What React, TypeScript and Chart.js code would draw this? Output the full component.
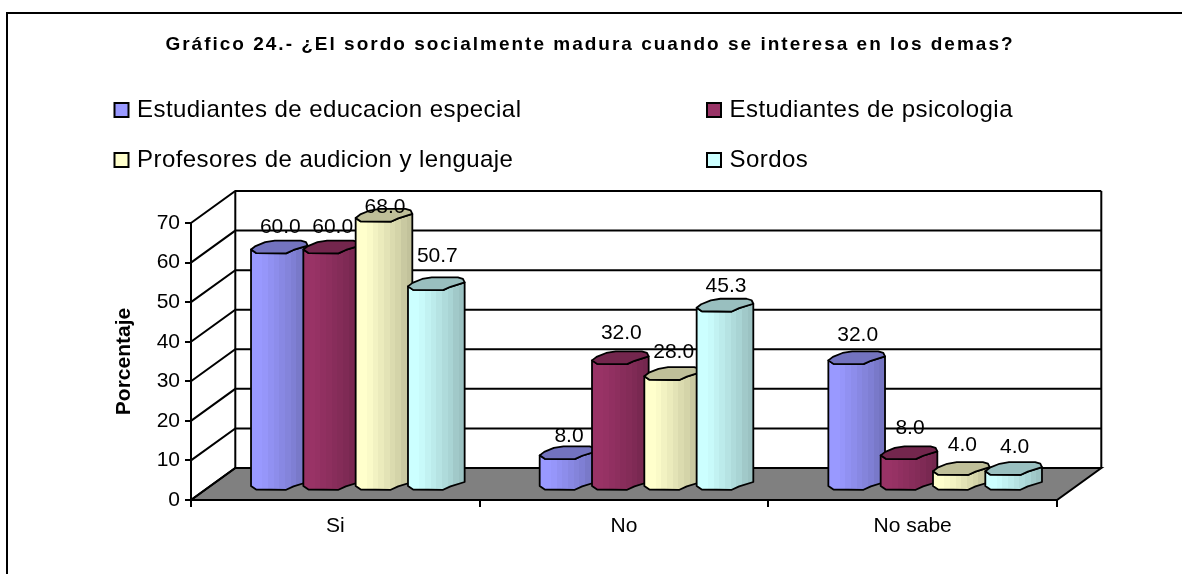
import React, { useEffect, useRef } from "react";
import { Chart, registerables } from "chart.js";

Chart.register(...registerables);

const chartTitle = "Gráfico 24.- ¿El sordo socialmente madura cuando se interesa en los demas?";
const categories = ["Si", "No", "No sabe"];
const seriesNames = [
  "Estudiantes de educacion especial",
  "Estudiantes de psicologia",
  "Profesores de audicion y lenguaje",
  "Sordos",
];
const educacionEspecial = [60.0, 8.0, 32.0];
const psicologia = [60.0, 32.0, 8.0];
const profesores = [68.0, 28.0, 4.0];
const sordos = [50.7, 45.3, 4.0];
const seriesColors = ["#9999FF", "#993366", "#FFFFCC", "#CCFFFF"];
const yTicksMax = 70;

// Pixel nudges of the value labels above the bar tops, per series and category.
const labelLift = [
  [22, 19, 25],
  [22, 27, 27],
  [10.5, 24, 26],
  [29.7, 22, 24],
];

const FONT = '"Liberation Sans", Arial, sans-serif';
const WALL_DX = 44.3;
const WALL_DY = -32;
const BAR_DX = 22.5;
const BAR_DY = -13;
const BANDS = [1, 1, 0.98, 0.95, 0.92, 0.89, 0.86, 0.83, 0.79, 0.76];

const shade = (hex: string, f: number) => {
  const n = parseInt(hex.slice(1), 16);
  const c = [(n >> 16) & 255, (n >> 8) & 255, n & 255].map((v) => Math.round(v * f));
  return `rgb(${c[0]},${c[1]},${c[2]})`;
};

const FRONT: [number, number][] = [[0.09, 3.5], [0.62, 3.8], [0.75, 0.4], [1, -4]];
const BACK: [number, number][] = [[0.97, -7.5], [0.88, -9], [0.42, -9], [0.25, -7.4], [0.08, -3.5], [0, 0]];

const drawCylinder = (ctx: CanvasRenderingContext2D, x0: number, w: number, top: number, base: number, color: string) => {
  const grad = ctx.createLinearGradient(x0, 0, x0 + w, 0);
  BANDS.forEach((f, i) => {
    grad.addColorStop(i / BANDS.length, shade(color, f));
    grad.addColorStop((i + 1) / BANDS.length, shade(color, f));
  });
  ctx.lineJoin = "round";
  ctx.lineWidth = 1.8;
  ctx.strokeStyle = "#000";
  ctx.beginPath();
  ctx.moveTo(x0, top);
  ctx.lineTo(x0, base);
  FRONT.forEach(([u, d]) => ctx.lineTo(x0 + u * w, base + d));
  ctx.lineTo(x0 + w, top - 4);
  for (let i = FRONT.length - 2; i >= 0; i--) ctx.lineTo(x0 + FRONT[i][0] * w, top + FRONT[i][1]);
  ctx.closePath();
  ctx.fillStyle = grad;
  ctx.fill();
  ctx.stroke();
  ctx.beginPath();
  ctx.moveTo(x0, top);
  FRONT.forEach(([u, d]) => ctx.lineTo(x0 + u * w, top + d));
  BACK.forEach(([u, d]) => ctx.lineTo(x0 + u * w, top + d));
  ctx.closePath();
  ctx.fillStyle = shade(color, 0.75);
  ctx.fill();
  ctx.stroke();
};

const scene3d = {
  id: "scene3d",
  beforeDraw(chart: any) {
    const box = chart.titleBlock;
    if (box && !box.__spaced) {
      const original = box.draw;
      box.draw = function (...args: any[]) {
        const ctx = chart.ctx;
        ctx.save();
        // centre the title on the whole picture rather than on the padded layout box
        ctx.translate((chart.width - (box.left + box.right)) / 2 - 1, 0);
        ctx.letterSpacing = "2px";
        original.apply(this, args);
        ctx.letterSpacing = "0px";
        ctx.restore();
      };
      box.__spaced = true;
    }
  },
  beforeDatasetsDraw(chart: any) {
    const { ctx, chartArea: a, scales } = chart;
    const y = scales.y;
    ctx.save();
    ctx.strokeStyle = "#000";
    ctx.lineWidth = 2;
    // floor
    ctx.beginPath();
    ctx.moveTo(a.left, a.bottom);
    ctx.lineTo(a.right, a.bottom);
    ctx.lineTo(a.right + WALL_DX, a.bottom + WALL_DY);
    ctx.lineTo(a.left + WALL_DX, a.bottom + WALL_DY);
    ctx.closePath();
    ctx.fillStyle = "#808080";
    ctx.fill();
    ctx.stroke();
    // gridlines over both walls
    y.ticks.forEach((t: any) => {
      const py = y.getPixelForValue(t.value);
      ctx.beginPath();
      ctx.moveTo(a.left, py);
      ctx.lineTo(a.left + WALL_DX, py + WALL_DY);
      ctx.lineTo(a.right + WALL_DX, py + WALL_DY);
      ctx.stroke();
    });
    // wall edges
    ctx.beginPath();
    ctx.moveTo(a.left + WALL_DX, a.top + WALL_DY);
    ctx.lineTo(a.left + WALL_DX, a.bottom + WALL_DY);
    ctx.moveTo(a.right + WALL_DX, a.top + WALL_DY);
    ctx.lineTo(a.right + WALL_DX, a.bottom + WALL_DY);
    ctx.stroke();
    // bars, drawn in series then category order from the library's own elements
    categories.forEach((_, c) => {
      chart.data.datasets.forEach((ds: any, s: number) => {
        const el = chart.getDatasetMeta(s).data[c];
        const x0 = el.x - el.width / 2 + BAR_DX;
        drawCylinder(ctx, x0, el.width, el.y + BAR_DY, el.base + BAR_DY, ds.backgroundColor);
      });
    });
    // value labels
    ctx.fillStyle = "#000";
    ctx.font = `21px ${FONT}`;
    ctx.textAlign = "center";
    ctx.textBaseline = "middle";
    categories.forEach((_, c) => {
      chart.data.datasets.forEach((ds: any, s: number) => {
        const el = chart.getDatasetMeta(s).data[c];
        ctx.fillText(ds.data[c].toFixed(1), el.x + BAR_DX + 1, el.y + BAR_DY - labelLift[s][c]);
      });
    });
    ctx.restore();
    return false;
  },
  afterDraw(chart: any) {
    const { ctx } = chart;
    ctx.save();
    // outer frame: only its top and left edges fall inside the picture
    ctx.strokeStyle = "#000";
    ctx.lineWidth = 2;
    ctx.beginPath();
    ctx.moveTo(7, 574);
    ctx.lineTo(7, 13);
    ctx.lineTo(1182, 13);
    ctx.stroke();
    // legend in two columns
    const xs = [114.5, 707];
    const ys = [110, 160];
    ctx.font = `24px ${FONT}`;
    ctx.letterSpacing = "0.45px";
    ctx.textBaseline = "middle";
    ctx.textAlign = "left";
    chart.data.datasets.forEach((ds: any, i: number) => {
      const x = xs[i % 2];
      const yy = ys[Math.floor(i / 2)];
      ctx.fillStyle = ds.backgroundColor;
      ctx.fillRect(x, yy - 7, 14, 14);
      ctx.strokeRect(x, yy - 7, 14, 14);
      ctx.fillStyle = "#000";
      ctx.fillText(ds.label, x + 22.5, yy);
    });
    ctx.letterSpacing = "0px";
    ctx.restore();
  },
};

export default function App() {
  const ref = useRef<HTMLCanvasElement>(null);
  useEffect(() => {
    const values = [educacionEspecial, psicologia, profesores, sordos];
    const chart = new Chart(ref.current as HTMLCanvasElement, {
      type: "bar",
      data: {
        labels: categories,
        datasets: seriesNames.map((label, i) => ({
          label,
          data: values[i],
          backgroundColor: seriesColors[i],
        })),
      },
      plugins: [scene3d as any],
      options: {
        responsive: false,
        animation: false,
        categoryPercentage: 0.725,
        barPercentage: 1.083,
        layout: { padding: { left: 0, top: 0, right: 125, bottom: 0 } },
        plugins: {
          legend: { display: false },
          tooltip: { enabled: false },
          title: {
            display: true,
            text: chartTitle,
            color: "#000",
            font: { family: FONT, size: 19, weight: "bold" },
            padding: { top: 33, bottom: 167.2 },
          },
        },
        scales: {
          x: {
            afterFit: (s: any) => { s.height = 74; },
            border: { color: "#000", width: 2 },
            grid: { drawOnChartArea: false, color: "#000", tickLength: 7, lineWidth: 2 },
            ticks: { color: "#000", font: { family: FONT, size: 21 }, padding: 7 },
          },
          y: {
            min: 0,
            max: yTicksMax,
            afterFit: (s: any) => { s.width = 191; },
            border: { color: "#000", width: 2 },
            grid: { drawOnChartArea: false, color: "#000", tickLength: 6, lineWidth: 2 },
            ticks: { stepSize: 10, color: "#000", font: { family: FONT, size: 21 }, padding: 5 },
            title: {
              display: true,
              text: "Porcentaje",
              color: "#000",
              font: { family: FONT, size: 21, weight: "bold" },
              padding: { top: 112, bottom: 0 },
            },
          },
        },
      } as any,
    });
    return () => chart.destroy();
  }, []);
  return (
    <div style={{ position: "fixed", left: 0, top: 0, width: 1182, height: 574, background: "#fff" }}>
      <canvas ref={ref} width={1182} height={574} style={{ display: "block" }} />
    </div>
  );
}
